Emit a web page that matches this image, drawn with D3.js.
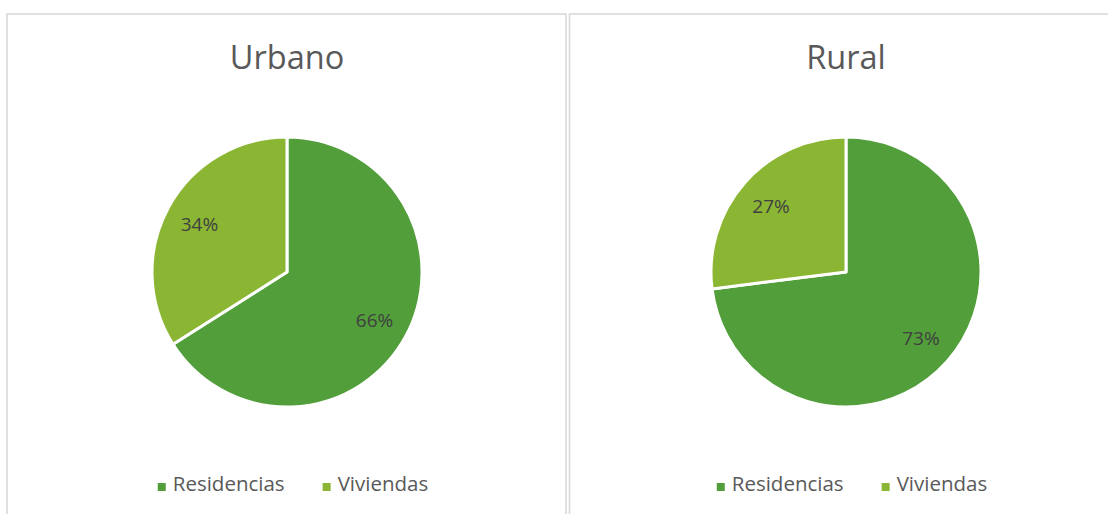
<!DOCTYPE html>
<html><head><meta charset="utf-8">
<script src="https://cdn.jsdelivr.net/npm/d3@7/dist/d3.min.js"></script>
<style>body{margin:0;background:#fff}svg{display:block}</style>
</head><body>
<svg id="c" width="1108" height="514"></svg>
<script>
const categories = ["Residencias", "Viviendas"];
const panels = ["Urbano", "Rural"];
const urbanoValues = [66, 34];
const ruralValues = [73, 27];
const colors = ["#519e3a", "#8bb634"];

const svg = d3.select("#c");
const font = "'Open Sans', 'Noto Sans', sans-serif";
const txt = "#595959";

const panelDefs = [
  {title: panels[0], values: urbanoValues, x0: 7, x1: 566, cx: 287},
  {title: panels[1], values: ruralValues, x0: 569.5, x1: 1130, cx: 846}
];
const color = d3.scaleOrdinal().domain(categories).range(colors);
const pie = d3.pie().sort(null).value(d => d.v);
const r = 135, cy = 272;
const arc = d3.arc().innerRadius(0).outerRadius(r);
const labelArc = d3.arc().innerRadius(r * 0.74).outerRadius(r * 0.74);

panelDefs.forEach(p => {
  svg.append("rect").attr("x", p.x0).attr("y", 14).attr("width", p.x1 - p.x0).attr("height", 520)
    .attr("fill", "#fff").attr("stroke", "#d9d9d9").attr("stroke-width", 1.6);
  svg.append("text").attr("x", p.cx).attr("y", 69).attr("text-anchor", "middle")
    .attr("font-family", font).attr("font-size", 32.5).attr("fill", txt).text(p.title);
  const g = svg.append("g").attr("transform", `translate(${p.cx},${cy})`);
  const data = pie(categories.map((c, i) => ({c, v: p.values[i]})));
  g.selectAll("path").data(data).join("path").attr("d", arc)
    .attr("fill", d => color(d.data.c)).attr("stroke", "#fff").attr("stroke-width", 3).attr("stroke-linejoin", "round");
  g.selectAll("text").data(data).join("text")
    .attr("transform", d => `translate(${labelArc.centroid(d)})`)
    .attr("text-anchor", "middle").attr("dy", "0.35em")
    .attr("font-family", font).attr("font-size", 19).attr("fill", "#404040")
    .text(d => d.data.v + "%");
  // legend
  const lg = svg.append("g");
  const items = lg.selectAll("g").data(categories).join("g");
  items.append("rect").attr("width", 8).attr("height", 8).attr("y", -8).attr("fill", d => color(d));
  items.append("text").attr("x", 15).attr("y", 0).attr("font-family", font).attr("font-size", 20.5)
    .attr("fill", txt).text(d => d);
  let x = 0;
  items.each(function() {
    d3.select(this).attr("transform", `translate(${x},0)`);
    x += this.getBBox().width + 38;
  });
  const total = x - 38;
  lg.attr("transform", `translate(${p.cx - total / 2 + 6},491)`);
});
</script>
</body></html>
